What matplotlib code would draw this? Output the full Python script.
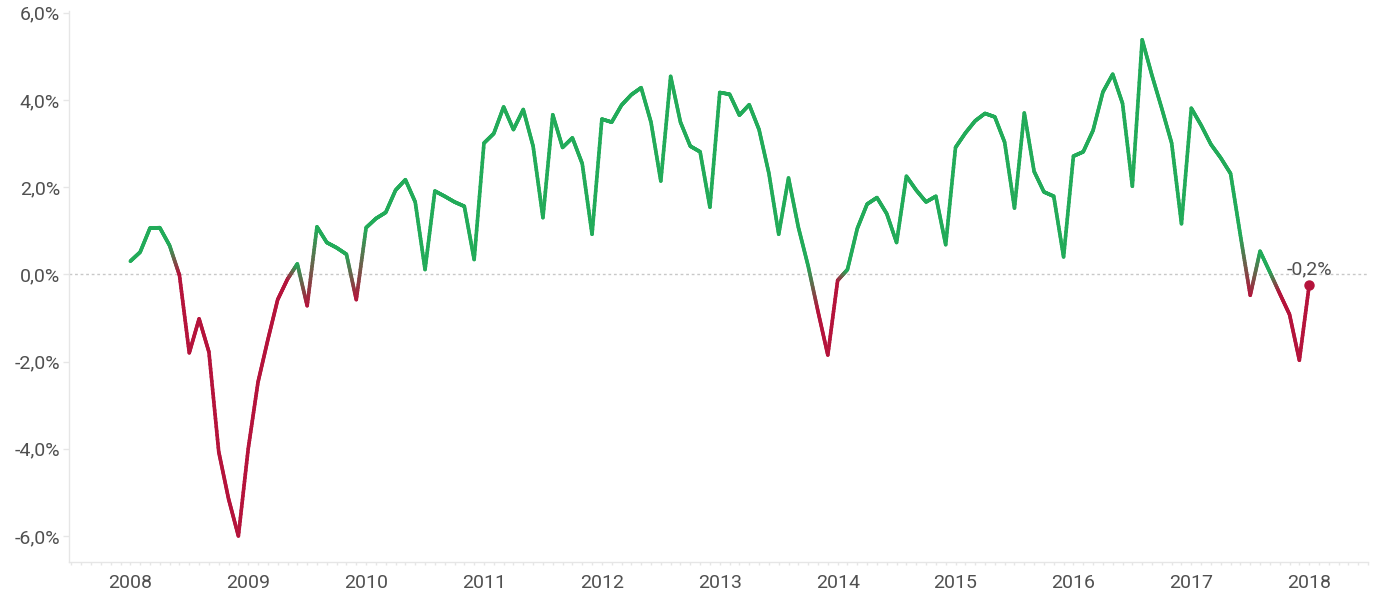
import numpy as np
import matplotlib
matplotlib.use("Agg")
import matplotlib.pyplot as plt
from matplotlib.collections import LineCollection
from matplotlib.colors import to_rgb
from matplotlib.ticker import FuncFormatter, MultipleLocator

# monthly values, Jan 2008 .. Jan 2018 (percent)
start_year = 2008
values = [
    0.30, 0.51, 1.06, 1.07, 0.66, -0.02, -1.80, -1.02, -1.78, -4.07, -5.15, -6.00,   # 2008
    -4.00, -2.47, -1.50, -0.58, -0.11, 0.24, -0.72, 1.09, 0.73, 0.61, 0.46, -0.58,   # 2009
    1.07, 1.28, 1.42, 1.93, 2.17, 1.66, 0.11, 1.91, 1.79, 1.66, 1.56, 0.34,          # 2010
    3.01, 3.23, 3.84, 3.32, 3.78, 2.94, 1.30, 3.66, 2.91, 3.13, 2.54, 0.92,          # 2011
    3.56, 3.49, 3.88, 4.12, 4.28, 3.49, 2.14, 4.54, 3.49, 2.94, 2.81, 1.54,          # 2012
    4.17, 4.13, 3.65, 3.89, 3.32, 2.32, 0.92, 2.21, 1.08, 0.19, -0.85, -1.85,        # 2013
    -0.14, 0.11, 1.05, 1.61, 1.76, 1.39, 0.73, 2.25, 1.93, 1.66, 1.79, 0.68,         # 2014
    2.91, 3.24, 3.52, 3.69, 3.61, 3.03, 1.52, 3.70, 2.36, 1.89, 1.79, 0.40,          # 2015
    2.71, 2.81, 3.30, 4.18, 4.59, 3.92, 2.02, 5.38, 4.56, 3.80, 3.01, 1.16,          # 2016
    3.81, 3.42, 2.98, 2.67, 2.31, 0.89, -0.48, 0.53, 0.05, -0.44, -0.92, -1.97,      # 2017
    -0.25,                                                                           # 2018
]
year_ticks = list(range(2008, 2019))

GREEN = "#22ab59"
RED = "#b5133b"
TEXT = "#505050"
AXIS = "#e6e6e6"

plt.rcParams["font.family"] = ["Roboto", "DejaVu Sans"]

x = start_year + np.arange(len(values)) / 12.0
y = np.array(values)

fig = plt.figure(figsize=(13.75, 5.93), dpi=100)
ax = fig.add_axes([0.0502, 0.0528, 0.9448, 0.9287])

# zero line
ax.axhline(0, color="#c8c8c8", lw=1, ls=(0, (2, 2)), zorder=1)

# line with colour fading between green (>=0) and red (<0) along each segment
g, r = np.array(to_rgb(GREEN)), np.array(to_rgb(RED))
segs, cols = [], []
n_sub = 24
for i in range(len(x) - 1):
    c0 = g if y[i] >= 0 else r
    c1 = g if y[i + 1] >= 0 else r
    ts = np.linspace(0, 1, n_sub + 1)
    px = x[i] + (x[i + 1] - x[i]) * ts
    py = y[i] + (y[i + 1] - y[i]) * ts
    for k in range(n_sub):
        segs.append([(px[k], py[k]), (px[k + 1], py[k + 1])])
        t = (k + 0.5) / n_sub
        cols.append(c0 * (1 - t) + c1 * t)
lc = LineCollection(segs, colors=cols, linewidths=2.6, capstyle="round", joinstyle="round", zorder=3)
ax.add_collection(lc)

# last point
last_col = GREEN if y[-1] >= 0 else RED
ax.plot(x[-1], y[-1], "o", color=last_col, ms=6.5, zorder=4)
ax.annotate(f"{y[-1]:.1f}%".replace(".", ","), xy=(x[-1], y[-1]), xytext=(0, 5),
            textcoords="offset points", ha="center", va="bottom", fontsize=14, color=TEXT)

ax.set_xlim(2007.48, 2018.5)
ax.set_ylim(-6.59, 6.04)

ax.set_yticks([-6, -4, -2, 0, 2, 4, 6])
ax.yaxis.set_major_formatter(FuncFormatter(lambda v, p: f"{v:.1f}%".replace(".", ",")))
ax.set_xticks(year_ticks)
ax.set_xticklabels([str(t) for t in year_ticks])
ax.xaxis.set_minor_locator(MultipleLocator(1 / 12))

for s in ["top", "right"]:
    ax.spines[s].set_visible(False)
for s in ["left", "bottom"]:
    ax.spines[s].set_color(AXIS)
    ax.spines[s].set_linewidth(1)

ax.tick_params(axis="y", length=4, width=1, color=AXIS, labelcolor=TEXT, labelsize=14, pad=2.5)
ax.tick_params(axis="x", which="major", length=2.5, width=1, color=AXIS, labelcolor=TEXT, labelsize=14, pad=6.5)
ax.tick_params(axis="x", which="minor", length=2.5, width=1, color=AXIS)

fig.savefig("out.png", dpi=100)
